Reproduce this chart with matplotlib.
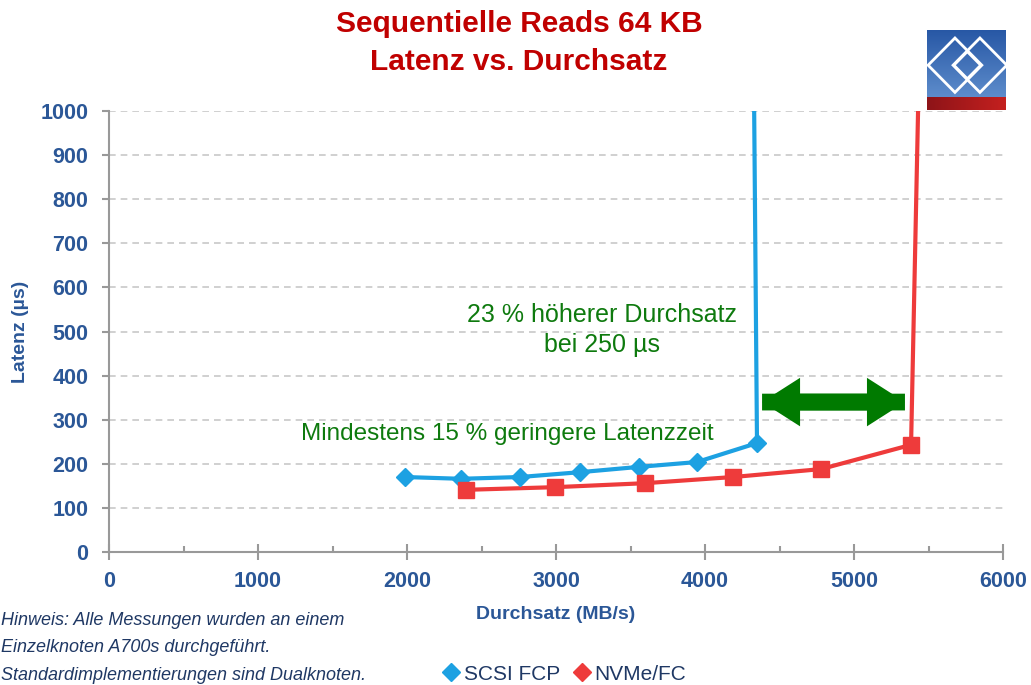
import matplotlib
matplotlib.use("Agg")
import matplotlib.pyplot as plt
from matplotlib.patches import FancyArrow, Polygon
from matplotlib.colors import LinearSegmentedColormap
from matplotlib.lines import Line2D
import numpy as np

# data
scsi_x = [1987, 2362, 2758, 3161, 3557, 3946, 4349, 4330]
scsi_y = [170, 166, 170, 181, 193, 204, 247, 1000]
nvme_x = [2396, 2993, 3597, 4188, 4779, 5383, 5430]
nvme_y = [141, 147, 156, 170, 188, 243, 1000]

blue = "#1DA1E2"
red = "#EE3B3B"
navy = "#2B5797"
green = "#0E7A0E"

plt.rcParams["font.family"] = ["Liberation Sans", "DejaVu Sans"]

fig = plt.figure(figsize=(10.31, 6.85), dpi=100)
ax = fig.add_axes([109 / 1031, 1 - 552 / 685, 894 / 1031, 441 / 685])

ax.plot(scsi_x, scsi_y, color=blue, lw=3, zorder=3)
ax.plot(scsi_x[:-1], scsi_y[:-1], ls="none", marker="D", ms=9.5, color=blue, zorder=4)
ax.plot(nvme_x, nvme_y, color=red, lw=3, zorder=3)
ax.plot(nvme_x[:-1], nvme_y[:-1], ls="none", marker="s", ms=12, color=red, zorder=4)

ax.set_xlim(0, 6000)
ax.set_ylim(0, 1000)
ax.set_xticks(range(0, 6001, 1000))
ax.set_xticks(range(500, 6000, 1000), minor=True)
ax.set_yticks(range(0, 1001, 100))
for y in range(100, 1001, 100):
    ax.axhline(y, color="#C8C8C8", lw=1.2, ls=(0, (4, 3)), zorder=1)

for s in ["top", "right"]:
    ax.spines[s].set_visible(False)
for s in ["left", "bottom"]:
    ax.spines[s].set_color("#999999")
    ax.spines[s].set_linewidth(1.5)

ax.tick_params(axis="x", which="major", direction="inout", length=11, width=1.5,
               color="#999999", labelsize=15.5, labelcolor=navy, pad=8)
ax.tick_params(axis="x", which="minor", direction="in", length=4.5, width=1.5, color="#999999")
ax.tick_params(axis="y", direction="out", length=5, width=1.5,
               color="#999999", labelsize=15.5, labelcolor=navy, pad=10)
for lab in ax.get_xticklabels() + ax.get_yticklabels():
    lab.set_fontweight("bold")

ax.set_xlabel("Durchsatz (MB/s)", fontsize=14, fontweight="bold", color=navy, labelpad=10)
ax.set_ylabel("Latenz (µs)", fontsize=14, fontweight="bold", color=navy, labelpad=8)

# double arrow between the two curves
ax.add_patch(FancyArrow(4383, 340, 959, 0, width=38, head_width=110, head_length=255,
                        length_includes_head=True, color="#007A00", lw=0, zorder=5))
ax.add_patch(FancyArrow(5342, 340, -959, 0, width=38, head_width=110, head_length=255,
                        length_includes_head=True, color="#007A00", lw=0, zorder=5))

ax.text(3310, 503, "23 % höherer Durchsatz\nbei 250 µs", ha="center", va="center",
        fontsize=18, color=green, linespacing=1.3)
ax.text(2670, 268, "Mindestens 15 % geringere Latenzzeit", ha="center", va="center",
        fontsize=17.5, color=green)

fig.text(519 / 1031, 1 - 43 / 685, "Sequentielle Reads 64 KB\nLatenz vs. Durchsatz",
         ha="center", va="center", fontsize=21.5, fontweight="bold", color="#C00000",
         linespacing=1.45)

note = "Hinweis: Alle Messungen wurden an einem\nEinzelknoten A700s durchgeführt.\nStandardimplementierungen sind Dualknoten."
fig.text(0.001, 1 - 648 / 685, note, ha="left", va="center", fontsize=13, style="italic",
         color="#1F3864", linespacing=1.8,
         family=["Liberation Sans Narrow", "Liberation Sans", "DejaVu Sans"])

handles = [Line2D([], [], ls="none", marker="D", ms=9.5, color=blue),
           Line2D([], [], ls="none", marker="D", ms=9.5, color=red)]
fig.legend(handles, ["SCSI FCP", "NVMe/FC"], loc="center", ncol=2,
           bbox_to_anchor=(564 / 1031, 1 - 674 / 685), frameon=False,
           handletextpad=0.15, columnspacing=0.6, handlelength=0.9,
           prop={"family": ["Liberation Sans Narrow", "Liberation Sans"], "size": 15},
           labelcolor="#1F3864")

# logo in the top right corner
lax = fig.add_axes([927 / 1031, 1 - 110 / 685, 79 / 1031, 80 / 685])
lax.set_xlim(0, 1)
lax.set_ylim(0, 1)
lax.axis("off")
grad = np.linspace(0, 1, 50).reshape(-1, 1)
lax.imshow(grad, extent=(0, 1, 0.16, 1), aspect="auto", origin="upper",
           cmap=LinearSegmentedColormap.from_list("lg", ["#2757A5", "#5D8CCB"]))
rgrad = np.linspace(0, 1, 50).reshape(1, -1)
lax.imshow(rgrad, extent=(0, 1, 0, 0.16), aspect="auto",
           cmap=LinearSegmentedColormap.from_list("lr", ["#8E1418", "#C4201F"]))
for cx, rx in [(0.354, 0.34), (0.67, 0.34), (0.51, 0.17)]:
    ry = rx
    lax.add_patch(Polygon([(cx - rx, 0.56), (cx, 0.56 + ry), (cx + rx, 0.56), (cx, 0.56 - ry)],
                          closed=True, fill=False, ec="white", lw=2))

fig.savefig("out.png", dpi=100)
